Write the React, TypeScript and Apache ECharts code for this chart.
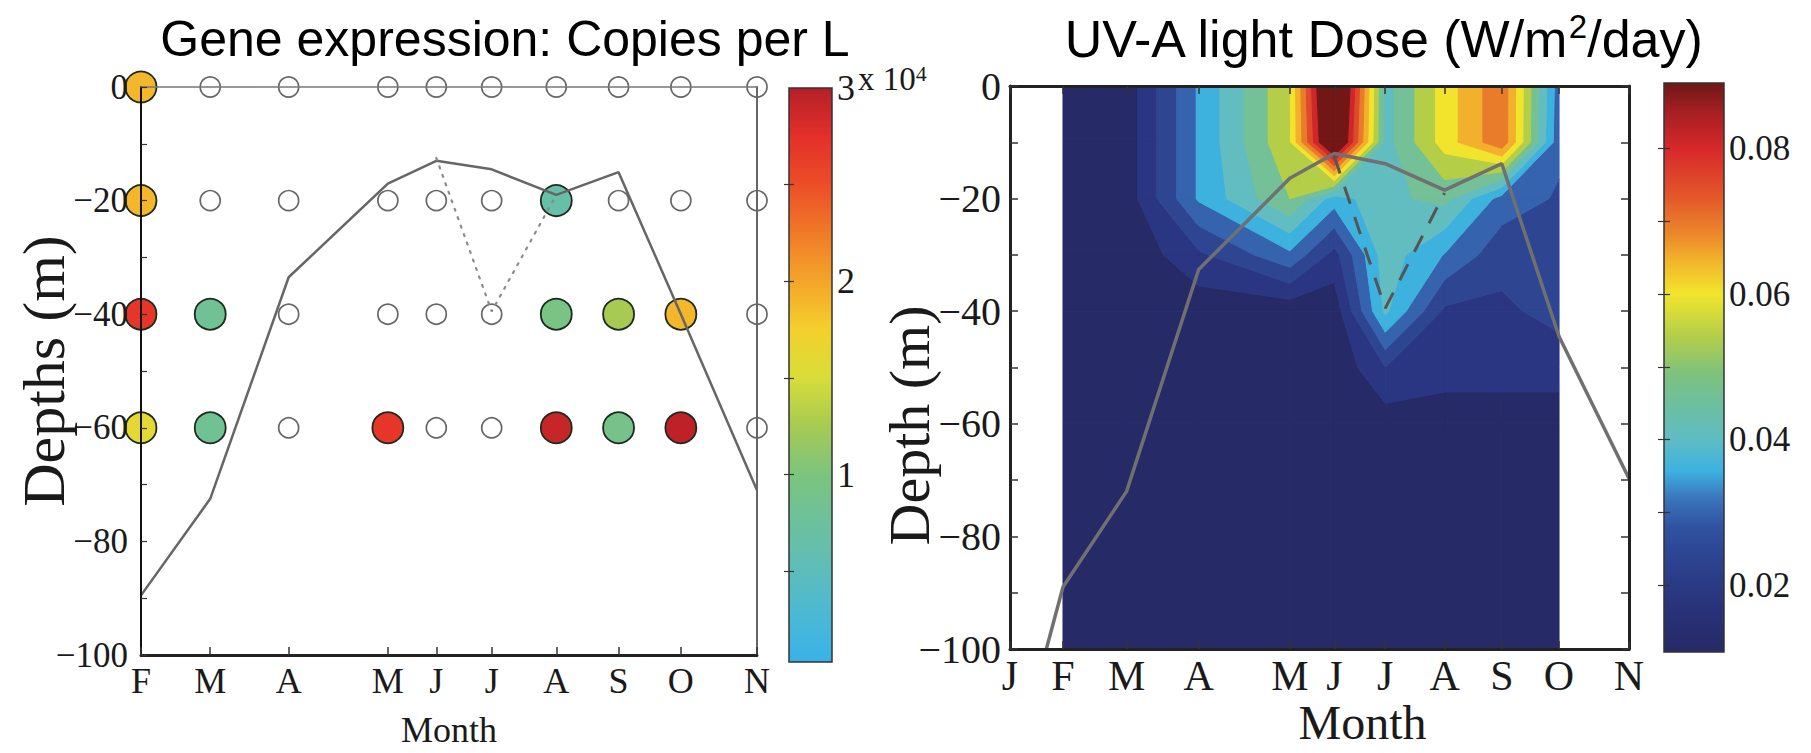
import React, { useEffect, useRef } from 'react';
import * as echarts from 'echarts';

// ---------------- data ----------------
// left panel: sampling months (day of year) and depths
const sampleMonths = ['F', 'M', 'A', 'M', 'J', 'J', 'A', 'S', 'O', 'N'];
const sampleDays = [35, 65, 99, 142, 163, 187, 215, 242, 269, 302];
const sampleDepths = [0, -20, -40, -60];
// gene copies per L (x 10^4), one array per depth; null = nothing detected (open circle)
const geneAt0 = [1.9, null, null, null, null, null, null, null, null, null];
const geneAt20 = [1.9, null, null, null, null, null, 0.65, null, null, null];
const geneAt40 = [2.7, 0.82, null, null, null, null, 0.95, 1.25, 1.9, null];
const geneAt60 = [1.6, 0.82, null, 2.7, null, null, 2.9, 0.9, 2.95, null];
const geneRows = [geneAt0, geneAt20, geneAt40, geneAt60];
// mixed layer depth line (left panel)
const mixedLayerGene = [-89.5, -72.5, -33.5, -17, -13, -14.5, -19, -15, -40, -71];

// right panel
const uvMonths = ['J', 'F', 'M', 'A', 'M', 'J', 'J', 'A', 'S', 'O', 'N'];
const uvMonthDays = [10, 35, 65, 99, 142, 163, 187, 215, 242, 269, 302];
const mixedLayerUV = [-124, -89, -72, -32.6, -16.4, -12, -13.8, -18.5, -13.8, -44.5, -69.7];
// alternative (dotted / dashed) layer depth
const altLayerDays = [163, 187, 215];
const altLayerDepth = [-12.5, -39.5, -19];

// UV-A dose grid (W/m2/day): columns = uvDays, rows = uvDepths
const uvDays = [35, 65, 99, 142, 163, 187, 215, 242, 269];
const uvDepths = [0, -10, -20, -30, -40, -50, -60, -100];
const uvAt0 = [0.012, 0.0135, 0.034, 0.055, 0.102, 0.042, 0.058, 0.071, 0.03];
const uvAt10 = [0.012, 0.0135, 0.034, 0.055, 0.098, 0.042, 0.058, 0.071, 0.029];
const uvAt20 = [0.012, 0.0135, 0.034, 0.05, 0.036, 0.043, 0.046, 0.031, 0.027];
const uvAt30 = [0.012, 0.012, 0.021, 0.032, 0.02, 0.042, 0.033, 0.024, 0.025];
const uvAt40 = [0.011, 0.012, 0.013, 0.0125, 0.013, 0.04, 0.021, 0.021, 0.024];
const uvAt50 = [0.011, 0.011, 0.012, 0.012, 0.012, 0.022, 0.019, 0.019, 0.019];
const uvAt60 = [0.011, 0.011, 0.011, 0.011, 0.012, 0.0135, 0.0135, 0.0135, 0.0135];
const uvAt100 = [0.0108, 0.0108, 0.0108, 0.0108, 0.0108, 0.0108, 0.0108, 0.0108, 0.0108];
const uvDose = [uvAt0, uvAt10, uvAt20, uvAt30, uvAt40, uvAt50, uvAt60, uvAt100];
const uvLevels = [0.0166, 0.0221, 0.0277, 0.0333, 0.0389, 0.0444, 0.05, 0.0556, 0.0611, 0.0667, 0.0723, 0.0779, 0.0834];

// colour bars
const geneScaleMin = 0.03;
const geneScaleMax = 3;
const geneLabelValues = [1, 2, 3];
const geneTickValues = [0.5, 1, 1.5, 2, 2.5];
const uvScaleMin = 0.0108;
const uvScaleMax = 0.089;
const uvLabelValues = [0.02, 0.04, 0.06, 0.08];
const uvTickValues = [0.02, 0.03, 0.04, 0.05, 0.06, 0.07, 0.08];

// ---------------- styles ----------------
const SERIF = "'Liberation Serif', 'Times New Roman', serif";
const SANS = "'Liberation Sans', Arial, sans-serif";
const INK = '#1a1a1a';

// gene colormap, evenly spaced over 0..3
const geneColormap = ['#38b2e8', '#4ab8d6', '#5dbdbb', '#6cc09c', '#7cc47e', '#a6ca52', '#d8dd38', '#f3d02d', '#f4a52a', '#f07a28', '#ec4d27', '#e3302a', '#b51f28'];
// UV colormap stops (value, colour)
const uvColormap: [number, string][] = [
  [0.0108, '#262a66'], [0.017, '#29337a'], [0.023, '#2c418e'], [0.028, '#3052a0'], [0.032, '#3a76bd'],
  [0.0357, '#3cb2e0'], [0.04, '#5fbcc3'], [0.045, '#6ebf9e'], [0.049, '#7dc27c'], [0.054, '#b2cd4a'],
  [0.06, '#f2e52c'], [0.0645, '#f2b52b'], [0.068, '#ec8a2b'], [0.073, '#e45a2a'], [0.08, '#d7282a'],
  [0.085, '#a51f22'], [0.089, '#6e1717'],
];
const uvBandColors = ['#262b67', '#2a3681', '#2e4592', '#3663ad', '#3db2df', '#62bdc0', '#74c097', '#b4ce48',
  '#f2e42c', '#f2b02c', '#e97c2b', '#df4a2a', '#cf2629', '#731616'];

const fmtDepth = (v: number) => (v % 20 === 0 ? (v < 0 ? '\u2212' + Math.abs(v) : String(v)) : '');

// ---------------- filled contour (isobands) ----------------
type P3 = [number, number, number];
function clipPoly(poly: P3[], level: number, keepAbove: boolean): P3[] {
  const out: P3[] = [];
  const n = poly.length;
  for (let i = 0; i < n; i++) {
    const a = poly[i];
    const b = poly[(i + 1) % n];
    const ain = keepAbove ? a[2] >= level : a[2] <= level;
    const bin = keepAbove ? b[2] >= level : b[2] <= level;
    if (ain) out.push(a);
    if (ain !== bin) {
      const t = (level - a[2]) / (b[2] - a[2]);
      out.push([a[0] + t * (b[0] - a[0]), a[1] + t * (b[1] - a[1]), level]);
    }
  }
  return out;
}
function buildBands() {
  const res: { band: number; pts: number[][] }[] = [];
  const bounds = [-Infinity, ...uvLevels, Infinity];
  for (let b = 0; b < bounds.length - 1; b++) {
    for (let r = 0; r < uvDepths.length - 1; r++) {
      for (let c = 0; c < uvDays.length - 1; c++) {
        let poly: P3[] = [
          [uvDays[c], uvDepths[r], uvDose[r][c]],
          [uvDays[c + 1], uvDepths[r], uvDose[r][c + 1]],
          [uvDays[c + 1], uvDepths[r + 1], uvDose[r + 1][c + 1]],
          [uvDays[c], uvDepths[r + 1], uvDose[r + 1][c]],
        ];
        if (isFinite(bounds[b])) poly = clipPoly(poly, bounds[b], true);
        if (poly.length >= 3 && isFinite(bounds[b + 1])) poly = clipPoly(poly, bounds[b + 1], false);
        if (poly.length >= 3) res.push({ band: b, pts: poly.map((p) => [p[0], p[1]]) });
      }
    }
  }
  return res;
}

export default function App() {
  const ref = useRef<HTMLDivElement>(null);
  useEffect(() => {
    if (!ref.current) return;
    const chart = echarts.init(ref.current, undefined, { renderer: 'svg' });

    const filled: number[][] = [];
    const empty: number[][] = [];
    geneRows.forEach((row, r) => {
      row.forEach((v, c) => {
        if (v === null) empty.push([sampleDays[c], sampleDepths[r]]);
        else filled.push([sampleDays[c], sampleDepths[r], v as number]);
      });
    });

    const bands = buildBands();

    const geneStops = geneColormap.map((col, i) => {
      const v = (i / (geneColormap.length - 1)) * 3;
      return { offset: Math.max(0, Math.min(1, (v - geneScaleMin) / (geneScaleMax - geneScaleMin))), color: col };
    });
    const uvStops = uvColormap.map(([v, col]) => ({
      offset: Math.max(0, Math.min(1, (v - uvScaleMin) / (uvScaleMax - uvScaleMin))),
      color: col,
    }));

    const colorBarSeries = (xi: number, yi: number, vmin: number, vmax: number, stops: any[]) => ({
      type: 'custom',
      xAxisIndex: xi,
      yAxisIndex: yi,
      silent: true,
      z: 1,
      data: [[0, vmin]],
      renderItem: (_p: any, api: any) => {
        const tl = api.coord([0, vmax]);
        const br = api.coord([1, vmin]);
        return {
          type: 'rect',
          shape: { x: tl[0], y: tl[1], width: br[0] - tl[0], height: br[1] - tl[1] },
          style: { fill: new echarts.graphic.LinearGradient(0, 1, 0, 0, stops), stroke: '#333', lineWidth: 1.5 },
        };
      },
    });

    const frameAxis = (extra: any) => ({
      type: 'value',
      z: 5,
      splitLine: { show: false },
      axisLabel: { show: false },
      axisTick: { show: false },
      ...extra,
    });

    const option: any = {
      animation: false,
      backgroundColor: '#ffffff',
      title: [
        {
          text: 'Gene expression: Copies per L',
          left: 500,
          top: 5,
          textAlign: 'center',
          textStyle: { fontFamily: SANS, fontSize: 50, fontWeight: 'normal', color: '#000', lineHeight: 58 },
        },
        {
          text: 'UV-A light Dose (W/m{sup|2}/day)',
          left: 1378,
          top: 5,
          textAlign: 'center',
          textStyle: {
            fontFamily: SANS,
            fontSize: 52,
            fontWeight: 'normal',
            color: '#000',
            lineHeight: 58,
            rich: { sup: { fontFamily: SANS, fontSize: 33, color: '#000', verticalAlign: 'top', lineHeight: 58, padding: [0, 0, 14, 0] } },
          },
        },
      ],
      graphic: [
        {
          type: 'text',
          left: 858,
          top: 62,
          style: {
            text: '{a|x 10}{b|4}',
            rich: {
              a: { fontFamily: SERIF, fontSize: 33, fill: INK },
              b: { fontFamily: SERIF, fontSize: 22, fill: INK, verticalAlign: 'top' },
            },
          },
        },
      ],
      grid: [
        { left: 141, top: 87, width: 616, height: 568, outerBoundsMode: 'none' },
        { left: 789, top: 88, width: 43, height: 574, outerBoundsMode: 'none' },
        { left: 1010, top: 86, width: 619, height: 563, outerBoundsMode: 'none' },
        { left: 1664, top: 83, width: 60, height: 569, outerBoundsMode: 'none' },
      ],
      xAxis: [
        {
          gridIndex: 0,
          type: 'value',
          position: 'bottom',
          min: 35,
          max: 302,
          z: 5,
          axisLine: { show: true, onZero: false, lineStyle: { color: '#222', width: 3 } },
          axisTick: { show: true, inside: true, length: 8, customValues: sampleDays, lineStyle: { color: '#333', width: 1.5 } },
          axisLabel: {
            customValues: sampleDays,
            formatter: (v: number) => sampleMonths[sampleDays.indexOf(v)] ?? '',
            fontFamily: SERIF,
            fontSize: 36,
            color: INK,
            margin: 8,
          },
          splitLine: { show: false },
          name: 'Month',
          nameLocation: 'middle',
          nameGap: 57,
          nameMoveOverlap: false,
          nameTextStyle: { fontFamily: SERIF, fontSize: 36, color: INK, lineHeight: 36 },
        },
        frameAxis({ gridIndex: 0, position: 'top', min: 35, max: 302, axisLine: { show: true, onZero: false, lineStyle: { color: '#777', width: 1.5 } } }),
        { gridIndex: 1, type: 'value', min: 0, max: 1, show: false },
        {
          gridIndex: 2,
          type: 'value',
          position: 'bottom',
          min: 10,
          max: 302,
          z: 5,
          axisLine: { show: true, onZero: false, lineStyle: { color: '#222', width: 3 } },
          axisTick: { show: true, inside: true, length: 8, customValues: uvMonthDays, lineStyle: { color: '#333', width: 1.5 } },
          axisLabel: {
            customValues: uvMonthDays,
            formatter: (v: number) => uvMonths[uvMonthDays.indexOf(v)] ?? '',
            fontFamily: SERIF,
            fontSize: 42,
            color: INK,
            margin: 6,
          },
          splitLine: { show: false },
          name: 'Month',
          nameLocation: 'middle',
          nameGap: 49,
          nameMoveOverlap: false,
          nameTextStyle: { fontFamily: SERIF, fontSize: 48, color: INK, lineHeight: 48, padding: [0, 0, 0, 86] },
        },
        frameAxis({
          gridIndex: 2,
          position: 'top',
          min: 10,
          max: 302,
          axisLine: { show: true, onZero: false, lineStyle: { color: '#222', width: 3 } },
          axisTick: { show: true, inside: true, length: 8, customValues: uvMonthDays, lineStyle: { color: '#333', width: 1.5 } },
        }),
        { gridIndex: 3, type: 'value', min: 0, max: 1, show: false },
      ],
      yAxis: [
        {
          gridIndex: 0,
          type: 'value',
          position: 'left',
          min: -100,
          max: 0,
          interval: 10,
          z: 5,
          axisLine: { show: true, onZero: false, lineStyle: { color: '#111', width: 2 } },
          axisTick: { show: true, inside: true, length: 6, lineStyle: { color: '#333', width: 1.2 } },
          axisLabel: { formatter: fmtDepth, fontFamily: SERIF, fontSize: 35, color: INK, margin: 13 },
          splitLine: { show: false },
          name: 'Depths (m)',
          nameLocation: 'middle',
          nameGap: 67,
          nameMoveOverlap: false,
          nameTextStyle: { fontFamily: SERIF, fontSize: 60, color: INK, lineHeight: 60 },
        },
        frameAxis({ gridIndex: 0, position: 'right', min: -100, max: 0, axisLine: { show: true, onZero: false, lineStyle: { color: '#666', width: 2 } } }),
        {
          gridIndex: 1,
          type: 'value',
          position: 'right',
          min: geneScaleMin,
          max: geneScaleMax,
          z: 5,
          axisLine: { show: false },
          splitLine: { show: false },
          axisTick: { show: true, inside: true, length: 5, customValues: geneTickValues, lineStyle: { color: '#333', width: 1.2 } },
          axisLabel: { customValues: geneLabelValues, formatter: (v: number) => String(v), fontFamily: SERIF, fontSize: 36, color: INK, margin: 5 },
        },
        frameAxis({
          gridIndex: 1,
          position: 'left',
          min: geneScaleMin,
          max: geneScaleMax,
          axisLine: { show: false },
          axisTick: { show: true, inside: true, length: 5, customValues: geneTickValues, lineStyle: { color: '#333', width: 1.2 } },
        }),
        {
          gridIndex: 2,
          type: 'value',
          position: 'left',
          min: -100,
          max: 0,
          interval: 10,
          z: 5,
          axisLine: { show: true, onZero: false, lineStyle: { color: '#222', width: 3 } },
          axisTick: { show: true, inside: true, length: 8, lineStyle: { color: '#333', width: 1.5 } },
          axisLabel: { formatter: fmtDepth, fontFamily: SERIF, fontSize: 40, color: INK, margin: 9 },
          splitLine: { show: false },
          name: 'Depth (m)',
          nameLocation: 'middle',
          nameGap: 72,
          nameMoveOverlap: false,
          nameTextStyle: { fontFamily: SERIF, fontSize: 58, color: INK, lineHeight: 58, padding: [0, 116, 0, 0] },
        },
        frameAxis({
          gridIndex: 2,
          position: 'right',
          min: -100,
          max: 0,
          interval: 10,
          axisLine: { show: true, onZero: false, lineStyle: { color: '#222', width: 3 } },
          axisTick: { show: true, inside: true, length: 8, lineStyle: { color: '#333', width: 1.5 } },
        }),
        {
          gridIndex: 3,
          type: 'value',
          position: 'right',
          min: uvScaleMin,
          max: uvScaleMax,
          z: 5,
          axisLine: { show: false },
          splitLine: { show: false },
          axisTick: { show: true, inside: true, length: 6, customValues: uvTickValues, lineStyle: { color: '#333', width: 1.2 } },
          axisLabel: { customValues: uvLabelValues, formatter: (v: number) => v.toFixed(2), fontFamily: SERIF, fontSize: 35, color: INK, margin: 5 },
        },
        frameAxis({
          gridIndex: 3,
          position: 'left',
          min: uvScaleMin,
          max: uvScaleMax,
          axisLine: { show: false },
          axisTick: { show: true, inside: true, length: 6, customValues: uvTickValues, lineStyle: { color: '#333', width: 1.2 } },
        }),
      ],
      visualMap: [
        { type: 'continuous', show: false, min: 0, max: 3, dimension: 2, seriesIndex: 1, inRange: { color: geneColormap } },
      ],
      series: [
        {
          type: 'scatter',
          xAxisIndex: 0,
          yAxisIndex: 0,
          clip: false,
          silent: true,
          z: 2,
          symbol: 'circle',
          symbolSize: 20,
          itemStyle: { color: 'rgba(255,255,255,0)', borderColor: '#666', borderWidth: 1.7, opacity: 1 },
          data: empty,
        },
        {
          type: 'scatter',
          xAxisIndex: 0,
          yAxisIndex: 0,
          clip: false,
          silent: true,
          z: 2,
          symbol: 'circle',
          symbolSize: 31,
          itemStyle: { borderColor: '#1e2a1e', borderWidth: 1.8, opacity: 1 },
          data: filled,
        },
        {
          type: 'line',
          xAxisIndex: 0,
          yAxisIndex: 0,
          z: 3,
          symbol: 'none',
          silent: true,
          lineStyle: { color: '#666', width: 2.5 },
          data: sampleDays.map((d, i) => [d, mixedLayerGene[i]]),
        },
        {
          type: 'line',
          xAxisIndex: 0,
          yAxisIndex: 0,
          z: 3,
          symbol: 'none',
          silent: true,
          lineStyle: { color: '#8a8a8a', width: 2.2, type: [2, 7], cap: 'round' },
          data: altLayerDays.map((d, i) => [d, altLayerDepth[i]]),
        },
        colorBarSeries(2, 2, geneScaleMin, geneScaleMax, geneStops),
        {
          type: 'custom',
          xAxisIndex: 3,
          yAxisIndex: 4,
          silent: true,
          clip: true,
          z: 1,
          data: bands.map((b) => [b.pts[0][0], b.pts[0][1], b.band]),
          renderItem: (params: any, api: any) => {
            const b = bands[params.dataIndex];
            const pts = b.pts.map((p) => api.coord(p));
            const col = uvBandColors[b.band];
            return { type: 'polygon', shape: { points: pts }, style: { fill: col, stroke: col, lineWidth: 1 } };
          },
        },
        {
          type: 'line',
          xAxisIndex: 3,
          yAxisIndex: 4,
          z: 3,
          symbol: 'none',
          silent: true,
          clip: true,
          lineStyle: { color: '#707070', width: 3.5 },
          data: uvMonthDays.map((d, i) => [d, mixedLayerUV[i]]),
        },
        {
          type: 'line',
          xAxisIndex: 3,
          yAxisIndex: 4,
          z: 3,
          symbol: 'none',
          silent: true,
          lineStyle: { color: '#555', width: 3, type: [18, 14] },
          data: altLayerDays.map((d, i) => [d, altLayerDepth[i]]),
        },
        colorBarSeries(5, 6, uvScaleMin, uvScaleMax, uvStops),
      ],
    };

    chart.setOption(option);
    return () => chart.dispose();
  }, []);

  return (
    <div
      ref={ref}
      style={{ position: 'absolute', left: 0, top: 0, width: 1811, height: 753, background: '#fff' }}
    />
  );
}
